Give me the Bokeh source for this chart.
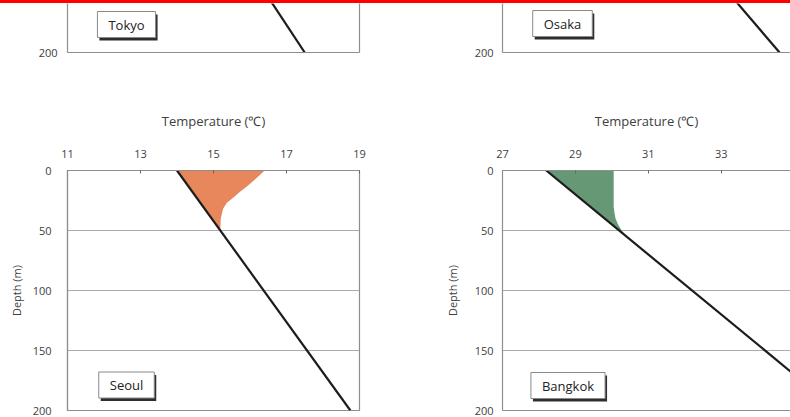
from bokeh.plotting import figure
from bokeh.layouts import column, row
from bokeh.models import Range1d, FixedTicker, LinearAxis, Label, Div
from bokeh.embed import file_html
from bokeh.resources import INLINE

# ---------------- data ----------------
depth_ticks = [0, 50, 100, 150, 200]

tokyo_depth = [0, 200]
tokyo_temp = [13.1, 17.5]

osaka_depth = [0, 200]
osaka_temp = [14.9, 20.6]

seoul_depth = [0, 200]
seoul_temp = [14.0, 18.75]
seoul_warm_depth = [0, 3, 8, 13, 18, 23, 27, 32, 40, 46, 50]
seoul_warm_temp = [16.4, 16.3, 16.12, 15.93, 15.72, 15.53, 15.36, 15.26, 15.2, 15.19, 15.1875]

bangkok_depth = [0, 200]
bangkok_temp = [28.2, 36.2]
bangkok_warm_depth = [0, 10, 20, 30, 35, 40, 45, 50, 55]
bangkok_warm_temp = [30.05, 30.05, 30.05, 30.05, 30.07, 30.1, 30.17, 30.27, 30.4]

seoul_temp_ticks = [11, 13, 15, 17, 19]
bangkok_temp_ticks = [27, 29, 31, 33, 35]

FONT = "Open Sans"
AXIS_GRAY = "#8e8e8e"
GRID_GRAY = "#ababab"
TEXT = "#404040"
LINE = "#1c1c1c"


def base_fig(height, xr, yr, left, right, top, bottom, above):
    p = figure(width=395, height=height, x_range=Range1d(*xr), y_range=Range1d(*yr),
               output_backend="svg", toolbar_location=None,
               x_axis_location="above" if above else None,
               min_border_left=left, min_border_right=right,
               min_border_top=top, min_border_bottom=bottom)
    p.outline_line_color = None
    p.background_fill_color = "white"
    p.border_fill_color = "white"
    p.xgrid.visible = False
    p.ygrid.ticker = FixedTicker(ticks=depth_ticks)
    p.ygrid.grid_line_color = GRID_GRAY
    p.ygrid.grid_line_width = 1.2
    ya = p.yaxis[0]
    ya.ticker = FixedTicker(ticks=depth_ticks)
    ya.major_tick_in = 0
    ya.major_tick_out = 0
    ya.minor_tick_in = 0
    ya.minor_tick_out = 0
    ya.axis_line_color = AXIS_GRAY
    ya.axis_line_width = 1.2
    ya.major_label_text_font = FONT
    ya.major_label_text_font_size = "11px"
    ya.major_label_text_color = TEXT
    ya.axis_label_text_font = FONT
    ya.axis_label_text_font_size = "11px"
    ya.axis_label_text_font_style = "normal"
    ya.axis_label_text_color = TEXT
    return p


def edge_axis(p, side):
    ax = LinearAxis(ticker=FixedTicker(ticks=[]), major_tick_out=0, major_tick_in=0,
                    minor_tick_out=0, minor_tick_in=0, major_label_standoff=0,
                    axis_line_color=AXIS_GRAY, axis_line_width=1.2)
    p.add_layout(ax, side)


def style_top_axis(p, ticks):
    xa = p.xaxis[0]
    xa.ticker = FixedTicker(ticks=ticks)
    xa.major_tick_in = 3
    xa.major_tick_out = 0
    xa.minor_tick_in = 0
    xa.minor_tick_out = 0
    xa.major_tick_line_color = "#666666"
    xa.axis_line_color = AXIS_GRAY
    xa.axis_line_width = 1.2
    xa.major_label_text_font = FONT
    xa.major_label_text_font_size = "11px"
    xa.major_label_text_color = TEXT
    xa.major_label_standoff = 13
    xa.axis_label = "Temperature (\u2103)"
    xa.axis_label_text_font = FONT
    xa.axis_label_text_font_size = "13px"
    xa.axis_label_text_font_style = "normal"
    xa.axis_label_text_color = TEXT
    xa.axis_label_standoff = 17


def city_label(p, text, x, y):
    shadow = Label(x=x + 2, y=y - 3, x_units="screen", y_units="screen", text=text,
                   text_align="center", text_baseline="middle", text_color="#2e2e2e",
                   text_font=FONT, text_font_size="13px",
                   background_fill_color="#2e2e2e", padding=(11, 4))
    box = Label(x=x, y=y, x_units="screen", y_units="screen", text=text,
                text_align="center", text_baseline="middle", text_color="#222222",
                text_font=FONT, text_font_size="13px",
                background_fill_color="white", border_line_color="#8a8a8a",
                border_line_width=1, padding=(11, 4))
    p.add_layout(shadow)
    p.add_layout(box)


# ---------------- top row (bottom edges of Tokyo / Osaka panels) ----------------
tokyo = base_fig(97, (11, 19), (200, 159.7), 67, 36, 0, 48, above=False)
tokyo.yaxis[0].major_label_standoff = 10
edge_axis(tokyo, "below")
edge_axis(tokyo, "right")
tokyo.line(tokyo_temp, tokyo_depth, line_color=LINE, line_width=2.2)
city_label(tokyo, "Tokyo", 59, 28)

osaka = base_fig(97, (13, 20.9), (200, 159.7), 107, 0, 0, 48, above=False)
osaka.yaxis[0].major_label_standoff = 9
edge_axis(osaka, "below")
osaka.line(osaka_temp, osaka_depth, line_color=LINE, line_width=2.2)
city_label(osaka, "Osaka", 60, 29)

# ---------------- bottom row ----------------
seoul = base_fig(317, (11, 19), (200, 0), 67, 36, 70, 7, above=True)
seoul.outline_line_color = AXIS_GRAY
seoul.outline_line_width = 1.2
style_top_axis(seoul, seoul_temp_ticks)
ys = seoul.yaxis[0]
ys.major_label_standoff = 16
ys.axis_label = "Depth (m)"
ys.axis_label_standoff = 6
seoul.patch(seoul_warm_temp + [seoul_temp[0]], seoul_warm_depth + [seoul_depth[0]],
            fill_color="#e8875c", line_color=None)
seoul.line(seoul_temp, seoul_depth, line_color=LINE, line_width=2.2)
city_label(seoul, "Seoul", 59, 25.5)

bangkok = base_fig(317, (27, 34.9), (200, 0), 107, 0, 70, 7, above=True)
style_top_axis(bangkok, bangkok_temp_ticks)
edge_axis(bangkok, "below")
yb = bangkok.yaxis[0]
yb.major_label_standoff = 9
yb.axis_label = "Depth (m)"
yb.axis_label_standoff = 12
bangkok.patch(bangkok_warm_temp + [bangkok_temp[0]], bangkok_warm_depth + [bangkok_depth[0]],
              fill_color="#679875", line_color=None)
bangkok.line(bangkok_temp, bangkok_depth, line_color=LINE, line_width=2.2)
city_label(bangkok, "Bangkok", 65.5, 25)

red_bar = Div(text="", width=790, height=3, margin=0,
              styles={"background-color": "#ff0000"})

layout = column(red_bar, row(tokyo, osaka), row(seoul, bangkok))

open("out.html", "w").write(file_html(layout, INLINE))
